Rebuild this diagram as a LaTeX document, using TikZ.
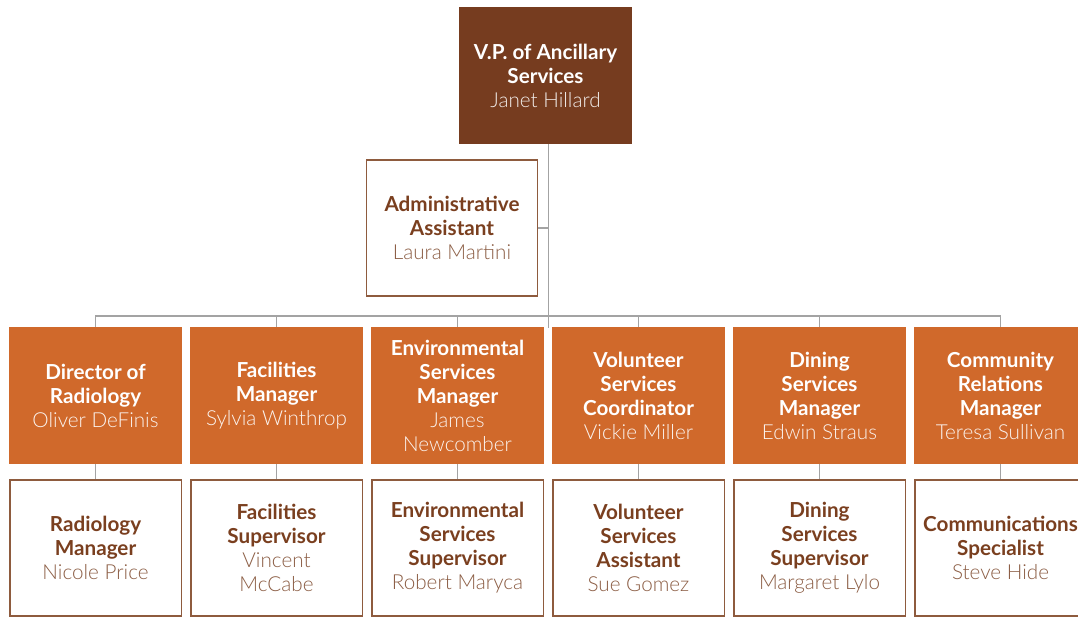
\documentclass[tikz,border=0pt]{standalone}
\usepackage{fontspec}
\setmainfont{Lato}
\newfontfamily\lightfont{Lato Light}
\definecolor{vpbrown}{HTML}{763C1F}
\definecolor{orangebox}{HTML}{D0692B}
\definecolor{boxedge}{HTML}{8E5B3E}
\definecolor{titlebrown}{HTML}{7A3F1F}
\definecolor{namebrown}{HTML}{8C5E45}
\definecolor{linegrey}{HTML}{A3A3A3}
\begin{document}
\begin{tikzpicture}[x=0.75pt,y=-0.75pt,
  box/.style={rectangle, inner sep=0pt, minimum width=129.4pt, minimum height=102.5pt, align=center, font={\fontsize{15.5}{18}\selectfont}},
  vpbox/.style={box, fill=vpbrown, text=white},
  obox/.style={box, fill=orangebox, text=white},
  wbox/.style={box, draw=boxedge, line width=1pt, fill=white, text=titlebrown, minimum width=128.5pt, minimum height=102pt},
  conn/.style={draw=linegrey, line width=0.9pt},
]
\useasboundingbox (0,0) rectangle (1078,618);
\fill[white] (0,0) rectangle (1078,618);

\newcommand\onm[1]{{\lightfont\color{white!92!orangebox}#1}}
\newcommand\wnm[1]{{\lightfont\color{namebrown}#1}}

\node[vpbox] (vp) at (545.5,75.5) {\textbf{V.P. of Ancillary}\\\textbf{Services}\\{\lightfont\color{white!90!vpbrown}Janet Hillard}};
\node[wbox] (admin) at (452,228) {\textbf{Administrative}\\\textbf{Assistant}\\\wnm{Laura Martini}};

\node[obox] (o1) at (95.5,395.5) {\textbf{Director of}\\\textbf{Radiology}\\\onm{Oliver DeFinis}};
\node[obox] (o2) at (276.5,395.5) {\textbf{Facilities}\\\textbf{Manager}\\\onm{Sylvia Winthrop}};
\node[obox] (o3) at (457.5,395.5) {\textbf{Environmental}\\\textbf{Services}\\\textbf{Manager}\\\onm{James}\\\onm{Newcomber}};
\node[obox] (o4) at (638.5,395.5) {\textbf{Volunteer}\\\textbf{Services}\\\textbf{Coordinator}\\\onm{Vickie Miller}};
\node[obox] (o5) at (819.5,395.5) {\textbf{Dining}\\\textbf{Services}\\\textbf{Manager}\\\onm{Edwin Straus}};
\node[obox] (o6) at (1000.5,395.5) {\textbf{Community}\\\textbf{Relations}\\\textbf{Manager}\\\onm{Teresa Sullivan}};

\node[wbox] (w1) at (95.5,548) {\textbf{Radiology}\\\textbf{Manager}\\\wnm{Nicole Price}};
\node[wbox] (w2) at (276.5,548) {\textbf{Facilities}\\\textbf{Supervisor}\\\wnm{Vincent}\\\wnm{McCabe}};
\node[wbox] (w3) at (457.5,548) {\textbf{Environmental}\\\textbf{Services}\\\textbf{Supervisor}\\\wnm{Robert Maryca}};
\node[wbox] (w4) at (638.5,548) {\textbf{Volunteer}\\\textbf{Services}\\\textbf{Assistant}\\\wnm{Sue Gomez}};
\node[wbox] (w5) at (819.5,548) {\textbf{Dining}\\\textbf{Services}\\\textbf{Supervisor}\\\wnm{Margaret Lylo}};
\node[wbox] (w6) at (1000.5,548) {\textbf{Communications}\\\textbf{Specialist}\\\wnm{Steve Hide}};

\coordinate (spine) at (548.5,328);
\draw[conn] (vp.south -| spine) -- (spine);
\draw[conn] (admin.east) -- (admin.east -| spine);
\draw[conn] (o1.north) -- ++(0,-11) -| (o6.north);
\foreach \i in {2,3,4,5} {\draw[conn] (o\i.north) -- ++(0,-11);}
\foreach \i in {1,...,6} {\draw[conn] (o\i.south) -- (w\i.north);}
\end{tikzpicture}
\end{document}
